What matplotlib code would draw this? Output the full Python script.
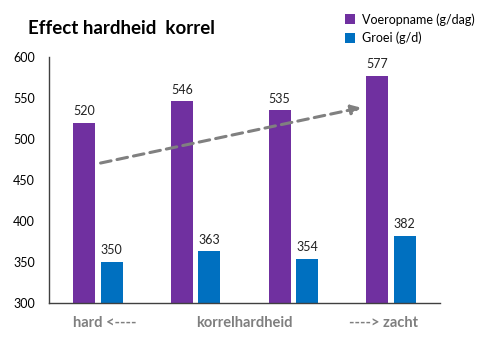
import matplotlib
matplotlib.use("Agg")
import matplotlib.pyplot as plt
import numpy as np

plt.rcParams['font.family'] = ['Lato', 'DejaVu Sans']

groups = ["1", "2", "3", "4"]
voeropname = [520, 546, 535, 577]
groei = [350, 363, 354, 382]
series_names = ["Voeropname (g/dag)", "Groei (g/d)"]
y_ticks = [300, 350, 400, 450, 500, 550, 600]
trend_start = (0.0, 470)
trend_end = (2.72, 539)

purple = "#7030A0"
blue = "#0070C0"

fig = plt.figure(figsize=(4.83, 3.5), dpi=100)
ax = fig.add_axes([0.1014, 0.1343, 0.8096, 0.7027])

x = np.arange(len(groups))
w = 0.225
b1 = ax.bar(x - 0.14, voeropname, w, color=purple, label=series_names[0])
b2 = ax.bar(x + 0.14, groei, w, color=blue, label=series_names[1])
for bars, vals in ((b1, voeropname), (b2, groei)):
    for r, v in zip(bars, vals):
        ax.annotate(str(v), (r.get_x() + r.get_width() / 2, v), xytext=(0, 4),
                    textcoords="offset points", ha="center", va="bottom",
                    fontsize=9, color="#222222")

ax.annotate("", xy=trend_end, xytext=trend_start,
            arrowprops=dict(arrowstyle="-|>", color="#808080", lw=2.2,
                            linestyle=(0, (3.5, 2)), mutation_scale=14))

ax.set_xlim(-0.5, 3.5)
ax.set_ylim(300, 600)
ax.set_yticks(y_ticks)
ax.tick_params(axis="y", length=0, labelsize=9, pad=10)
ax.set_xticks([])
for s in ("top", "right"):
    ax.spines[s].set_visible(False)
for s in ("left", "bottom"):
    ax.spines[s].set_color("#404040")
    ax.spines[s].set_linewidth(1.0)

label_kw = dict(transform=ax.get_xaxis_transform(), ha="center", va="center",
                fontsize=10.5, fontweight="bold", color="#7F7F7F")
ax.text(0.07, -0.08, "hard <----", **label_kw)
ax.text(1.5, -0.08, "korrelhardheid", **label_kw)
ax.text(2.92, -0.08, "----> zacht", **label_kw)

fig.text(0.058, 0.92, "Effect hardheid  korrel", fontsize=13.5, fontweight="bold",
         va="center", ha="left")

fig.legend(handles=[b1, b2], loc="upper left", bbox_to_anchor=(0.69, 0.995),
           frameon=False, fontsize=9, handlelength=0.8, handleheight=0.8,
           handletextpad=0.6, labelspacing=0.5)

fig.savefig("out.png", dpi=100)
